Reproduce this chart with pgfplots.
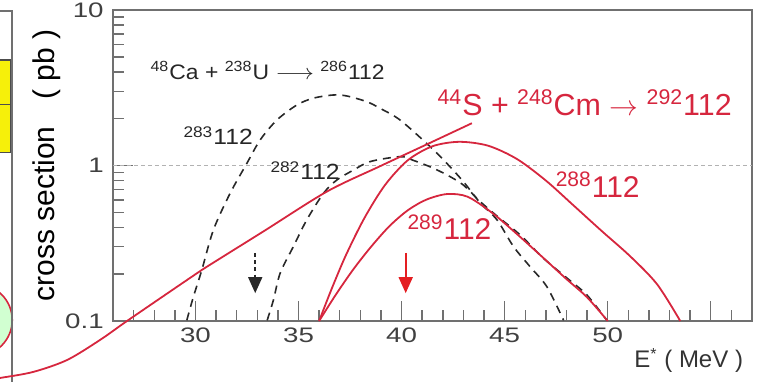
\documentclass[border=0pt]{standalone}
\usepackage{pgfplots}
\pgfplotsset{compat=1.18}
\usepackage{fontspec}
\setmainfont{Liberation Sans}
\usetikzlibrary{arrows.meta}
\definecolor{crim}{RGB}{214,38,62}
\definecolor{arrred}{RGB}{228,30,34}
\definecolor{axgray}{RGB}{112,112,112}
\definecolor{dashk}{RGB}{40,40,40}
\definecolor{boxyellow}{RGB}{246,240,10}

\begin{document}
\begin{tikzpicture}
\begin{axis}[
  name=main,
  scale only axis, width=319.5pt, height=155.5pt,
  xmin=26, xmax=57, ymode=log, ymin=0.1, ymax=10,
  clip=false,
  axis line style={axgray, line width=0.8pt},
  xtick={30,35,40,45,50,55}, xticklabels={30,35,40,45,50,{}},
  minor xtick={27,28,29,31,32,33,34,36,37,38,39,41,42,43,44,46,47,48,49,51,52,53,54,56},
  ytick={0.1,1,10}, yticklabels={0.1,1,10},
  minor ytick={0.2,0.3,0.4,0.5,0.6,0.7,0.8,0.9,2,3,4,5,6,7,8,9},
  tick align=inside, xtick pos=bottom, ytick pos=left,
  tick style={axgray, line width=0.7pt},
  major tick length=10pt, minor tick length=5.5pt,
  tick label style={font=\fontsize{10.5}{12}\selectfont, text=black!75, xscale=1.32},
  ylabel={cross section\hspace{0.9em}( pb )},
  ylabel style={font=\fontsize{15}{18}\selectfont, at={(axis description cs:-0.0908,0.5)}, anchor=base, rotate=0},
  xlabel={E\textsuperscript{*} ( MeV )},
  xlabel style={font=\fontsize{12}{14}\selectfont, text=black!80, at={(axis description cs:0.805,-0.151)}, anchor=base west},
]

% left neighbouring panel (edge only)
\draw[crim, line width=0.8pt, fill=green!18] (rel axis cs:-0.214,0.003) circle [radius=18pt];
\filldraw[fill=boxyellow, draw=black!70, line width=0.6pt] (rel axis cs:-0.2,0.839) rectangle (rel axis cs:-0.161,0.695);
\filldraw[fill=boxyellow, draw=black!70, line width=0.6pt] (rel axis cs:-0.2,0.695) rectangle (rel axis cs:-0.161,0.543);
\draw[axgray, line width=0.8pt] (rel axis cs:-0.25,0.997) -- (rel axis cs:-0.158,0.997) -- (rel axis cs:-0.158,-0.25);

% reference line at 1 pb
\addplot[gray!60, line width=0.4pt, dash pattern=on 2pt off 1.5pt] coordinates {(26,1) (57,1)};

% 48Ca + 238U -> 283112 (3n)
\addplot[dashk, line width=0.8pt, dash pattern=on 4pt off 3pt, smooth] coordinates {
 (29.58,0.101) (29.90,0.143) (30.31,0.213) (30.87,0.385) (31.68,0.662) (32.49,1.03)
 (33.14,1.46) (33.95,1.96) (34.92,2.45) (35.72,2.71) (36.68,2.84) (37.34,2.80)
 (38.32,2.57) (38.96,2.33) (39.93,1.96) (41.39,1.32) (42.20,1.03) (43.00,0.787)
 (43.82,0.574) (44.63,0.447) (45.43,0.301) (46.24,0.223) (47.05,0.166) (47.86,0.101)
};
% 48Ca + 238U -> 282112 (4n)
\addplot[dashk, line width=0.8pt, dash pattern=on 4pt off 3pt, smooth] coordinates {
 (33.48,0.101) (33.78,0.136) (34.11,0.203) (34.75,0.301) (35.40,0.447) (36.21,0.662)
 (36.86,0.807) (37.67,0.935) (38.48,1.06) (39.93,1.14) (40.56,1.08) (41.39,0.98)
 (42.20,0.87) (42.99,0.75) (43.82,0.585) (44.63,0.473) (45.76,0.357) (46.87,0.254)
 (48.02,0.189) (48.99,0.147) (49.96,0.101)
};

% 44S + 248Cm, capture line
\addplot[crim, line width=0.9pt, smooth] coordinates {
 (19.5,0.041) (20.51,0.043) (22.12,0.047) (23.77,0.0561) (25.37,0.0755) (26.68,0.1)
 (29.25,0.171) (30.31,0.213) (33.30,0.377) (36.37,0.679) (38.96,0.99) (41.39,1.40) (43.41,1.87)
};
% 44S + 248Cm -> 288112 (4n)
\addplot[crim, line width=0.9pt, smooth] coordinates {
 (36.0,0.1) (36.6,0.16) (37.3,0.265) (38.2,0.46) (39.2,0.75) (40.3,1.08) (41.5,1.33)
 (42.8,1.42) (44.2,1.34) (45.6,1.10) (47.0,0.80) (48.3,0.56) (49.7,0.38) (51.1,0.26)
 (52.4,0.172) (53.52,0.1)
};
% 44S + 248Cm -> 289112 (3n)
\addplot[crim, line width=0.9pt, smooth] coordinates {
 (36.0,0.1) (36.8,0.147) (37.65,0.214) (38.5,0.298) (39.4,0.406) (40.3,0.515) (41.2,0.603)
 (42.2,0.655) (43.2,0.63) (44.4,0.495) (45.6,0.362) (46.8,0.26) (48.0,0.186)
 (49.0,0.142) (50.0,0.1)
};

% arrows
\draw[dashk, line width=0.8pt, dash pattern=on 2pt off 1.6pt, -{Triangle[width=7pt,length=8pt]}] (axis cs:32.9,0.274) -- (axis cs:32.9,0.151);
\draw[arrred, line width=0.8pt, -{Triangle[width=7pt,length=8pt]}] (axis cs:40.2,0.274) -- (axis cs:40.2,0.151);

% labels
\node[anchor=base west, font=\fontsize{10.5}{12}\selectfont, xscale=1.09, text=black!85, inner sep=0pt] at (axis cs:27.8,3.55)
  {\textsuperscript{48}Ca + \textsuperscript{238}U \ensuremath{\longrightarrow} \textsuperscript{286}112};
\node[anchor=base west, font=\fontsize{11}{12}\selectfont, xscale=1.12, text=black!85, inner sep=0pt] at (axis cs:29.40,1.355) {\textsuperscript{283}112};
\node[anchor=base west, font=\fontsize{11}{12}\selectfont, xscale=1.12, text=black!85, inner sep=0pt] at (axis cs:33.62,0.807) {\textsuperscript{282}112};
\node[anchor=base west, font=\fontsize{15.2}{18}\selectfont, text=crim, inner sep=0pt] at (axis cs:41.73,2.11)
  {\textsuperscript{44}S + \textsuperscript{248}Cm \ensuremath{\rightarrow} \textsuperscript{292}112};
\node[anchor=base west, font=\fontsize{15}{18}\selectfont, text=crim, inner sep=0pt] at (axis cs:47.46,0.627) {\textsuperscript{288}112};
\node[anchor=base west, font=\fontsize{15}{18}\selectfont, text=crim, inner sep=0pt] at (axis cs:40.27,0.332) {\textsuperscript{289}112};
\end{axis}
\pgfresetboundingbox
\useasboundingbox ([shift={(-56.5pt,-30.5pt)}]main.south west) rectangle ([shift={(4pt,5pt)}]main.north east);
\end{tikzpicture}
\end{document}
